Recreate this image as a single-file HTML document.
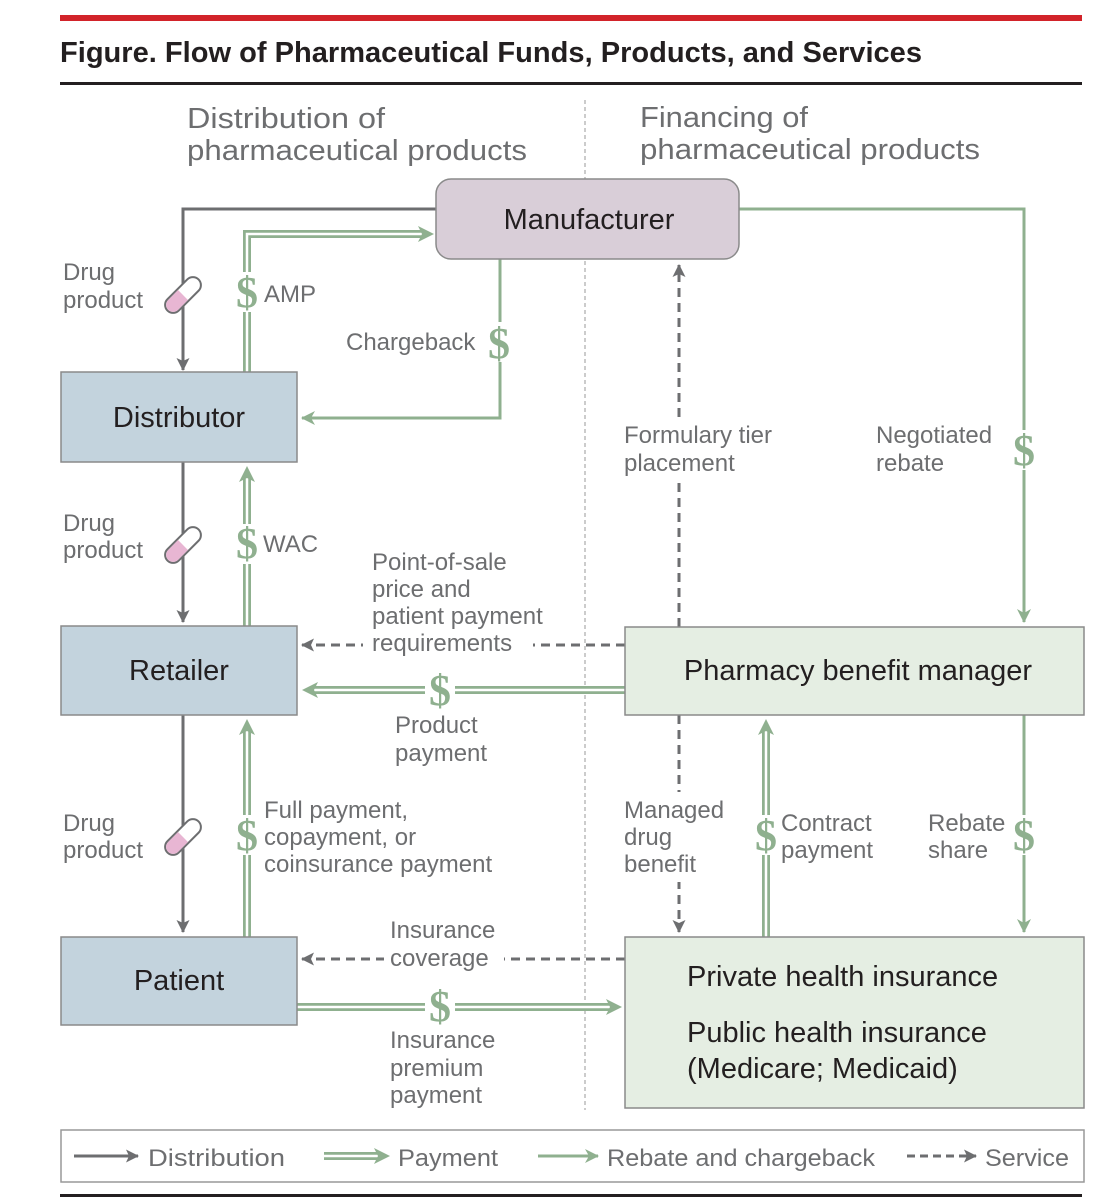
<!DOCTYPE html>
<html><head><meta charset="utf-8"><style>
html,body{margin:0;padding:0;background:#fff}
svg{display:block}
text{font-family:"Liberation Sans",sans-serif}
.l{fill:#6d6e70;font-size:24px}
.b{fill:#231f20;font-size:29px}
.d{fill:#8fb08f;font-size:44px;font-family:"Liberation Serif",serif;font-weight:bold}
</style></head><body>
<svg width="1114" height="1200" viewBox="0 0 1114 1200" xmlns="http://www.w3.org/2000/svg">
<defs>
<marker id="ag" markerWidth="13" markerHeight="13" refX="12" refY="6.5" orient="auto" markerUnits="userSpaceOnUse"><path d="M0,0 L13,6.5 L0,13 L3,6.5 z" fill="#6d6e70"/></marker>
<marker id="aG" markerWidth="14" markerHeight="14" refX="13" refY="7" orient="auto" markerUnits="userSpaceOnUse"><path d="M0,0 L14,7 L0,14 L4,7 z" fill="#8fb08f"/></marker>
<g id="pill"><rect x="-22" y="-8" width="44" height="16" rx="8" fill="#fff" stroke="#6d6e70" stroke-width="2"/><path d="M0,-7 L-14,-7 A7,7 0 0 0 -14,7 L0,7 z" fill="#e8b6d3"/></g>
</defs>
<rect x="60" y="15" width="1022" height="6" fill="#d2232a"/>
<text x="60" y="62" font-size="29" font-weight="bold" fill="#231f20" textLength="862" lengthAdjust="spacingAndGlyphs">Figure. Flow of Pharmaceutical Funds, Products, and Services</text>
<rect x="60" y="82" width="1022" height="3" fill="#231f20"/>
<text x="187" y="128" font-size="29" fill="#6d6e70" textLength="198" lengthAdjust="spacingAndGlyphs">Distribution of</text>
<text x="187" y="160" font-size="29" fill="#6d6e70" textLength="340" lengthAdjust="spacingAndGlyphs">pharmaceutical products</text>
<text x="640" y="127" font-size="29" fill="#6d6e70" textLength="168" lengthAdjust="spacingAndGlyphs">Financing of</text>
<text x="640" y="159" font-size="29" fill="#6d6e70" textLength="340" lengthAdjust="spacingAndGlyphs">pharmaceutical products</text>
<line x1="585" y1="100" x2="585" y2="1110" stroke="#999" stroke-width="1" stroke-dasharray="4,3"/>

<g stroke="#6d6e70" stroke-width="3" fill="none" marker-end="url(#ag)">
<path d="M436,209 H183 V370"/>
<path d="M183,462 V622"/>
<path d="M183,715 V932"/>
</g>
<g fill="none" stroke-linejoin="miter">
<g stroke="#8fb08f" stroke-width="8">
<path d="M247,372 V234 H424"/>
<path d="M247,626 V478"/>
<path d="M247,937 V730"/>
<path d="M625,690 H314"/>
<path d="M297,1007 H610"/>
<path d="M766,937 V730"/>
</g>
<g stroke="#fff" stroke-width="2.5">
<path d="M247,374 V234 H426"/>
<path d="M247,628 V476"/>
<path d="M247,939 V728"/>
<path d="M627,690 H312"/>
<path d="M295,1007 H612"/>
<path d="M766,939 V728"/>
</g>
</g>
<g fill="#8fb08f">
<path d="M434,234 L418,226 L422,234 L418,242 z"/>
<path d="M247,466 L239,482 L247,478 L255,482 z"/>
<path d="M247,719 L239,735 L247,731 L255,735 z"/>
<path d="M302,690 L318,682 L314,690 L318,698 z"/>
<path d="M622,1007 L606,999 L610,1007 L606,1015 z"/>
<path d="M766,719 L758,735 L766,731 L774,735 z"/>
</g>
<g stroke="#8fb08f" stroke-width="3" fill="none" marker-end="url(#aG)">
<path d="M500,259 V418 H302"/>
<path d="M739,209 H1024 V622"/>
<path d="M1024,715 V932"/>
</g>
<g stroke="#6d6e70" stroke-width="3" fill="none" stroke-dasharray="9,6" marker-end="url(#ag)">
<path d="M625,645 H302"/>
<path d="M625,959 H302"/>
<path d="M679,627 V265"/>
<path d="M679,715 V932"/>
</g>

<g fill="#fff">
<rect x="363" y="632" width="170" height="24"/>
<rect x="384" y="945" width="120" height="24"/>
<rect x="620" y="418" width="180" height="62"/>
<rect x="620" y="792" width="115" height="90"/>
<rect x="232" y="272" width="30" height="40"/>
<rect x="484" y="322" width="30" height="40"/>
<rect x="232" y="524" width="30" height="40"/>
<rect x="232" y="815" width="30" height="40"/>
<rect x="425" y="670" width="30" height="40"/>
<rect x="425" y="986" width="30" height="40"/>
<rect x="751" y="815" width="30" height="40"/>
<rect x="1009" y="430" width="30" height="40"/>
<rect x="1009" y="815" width="30" height="40"/>
</g>

<rect x="436" y="179" width="303" height="80" rx="15" fill="#d9ced8" stroke="#8a8a8a" stroke-width="1.5"/>
<text x="589" y="229" class="b" text-anchor="middle">Manufacturer</text>
<rect x="61" y="372" width="236" height="90" fill="#c3d3dd" stroke="#8a8a8a" stroke-width="1.5"/>
<text x="179" y="427" class="b" text-anchor="middle">Distributor</text>
<rect x="61" y="626" width="236" height="89" fill="#c3d3dd" stroke="#8a8a8a" stroke-width="1.5"/>
<text x="179" y="680" class="b" text-anchor="middle">Retailer</text>
<rect x="61" y="937" width="236" height="88" fill="#c3d3dd" stroke="#8a8a8a" stroke-width="1.5"/>
<text x="179" y="990" class="b" text-anchor="middle">Patient</text>
<rect x="625" y="627" width="459" height="88" fill="#e5eee3" stroke="#8a8a8a" stroke-width="1.5"/>
<text x="858" y="680" class="b" text-anchor="middle">Pharmacy benefit manager</text>
<rect x="625" y="937" width="459" height="171" fill="#e5eee3" stroke="#8a8a8a" stroke-width="1.5"/>
<text x="687" y="986" class="b">Private health insurance</text>
<text x="687" y="1042" class="b">Public health insurance</text>
<text x="687" y="1078" class="b" font-size="26">(Medicare; Medicaid)</text>

<use href="#pill" transform="translate(183,295) rotate(-45)"/>
<use href="#pill" transform="translate(183,545) rotate(-45)"/>
<use href="#pill" transform="translate(183,837) rotate(-45)"/>

<g text-anchor="middle">
<text x="247" y="307" class="d">$</text>
<text x="499" y="358" class="d">$</text>
<text x="247" y="558" class="d">$</text>
<text x="247" y="850" class="d">$</text>
<text x="440" y="705" class="d">$</text>
<text x="440" y="1021" class="d">$</text>
<text x="766" y="850" class="d">$</text>
<text x="1024" y="465" class="d">$</text>
<text x="1024" y="850" class="d">$</text>
</g>

<g class="l">
<text x="63" y="280">Drug</text><text x="63" y="308">product</text>
<text x="63" y="531">Drug</text><text x="63" y="558">product</text>
<text x="63" y="831">Drug</text><text x="63" y="858">product</text>
<text x="264" y="302">AMP</text>
<text x="346" y="350">Chargeback</text>
<text x="263" y="552">WAC</text>
<text x="372" y="570">Point-of-sale</text>
<text x="372" y="597">price and</text>
<text x="372" y="624">patient payment</text>
<text x="372" y="651">requirements</text>
<text x="395" y="733">Product</text><text x="395" y="761">payment</text>
<text x="264" y="818">Full payment,</text>
<text x="264" y="845">copayment, or</text>
<text x="264" y="872">coinsurance payment</text>
<text x="390" y="938">Insurance</text><text x="390" y="966">coverage</text>
<text x="390" y="1048">Insurance</text><text x="390" y="1076">premium</text><text x="390" y="1103">payment</text>
<text x="624" y="443">Formulary tier</text><text x="624" y="471">placement</text>
<text x="876" y="443">Negotiated</text><text x="876" y="471">rebate</text>
<text x="624" y="818">Managed</text><text x="624" y="845">drug</text><text x="624" y="872">benefit</text>
<text x="781" y="831">Contract</text><text x="781" y="858">payment</text>
<text x="928" y="831">Rebate</text><text x="928" y="858">share</text>
</g>

<rect x="61" y="1130" width="1023" height="52" fill="#fff" stroke="#999" stroke-width="1.5"/>
<line x1="74" y1="1156" x2="138" y2="1156" stroke="#6d6e70" stroke-width="3" marker-end="url(#ag)"/>
<text x="148" y="1166" class="l" textLength="137" lengthAdjust="spacingAndGlyphs">Distribution</text>
<path d="M324,1156 H380" stroke="#8fb08f" stroke-width="8" fill="none"/>
<path d="M322,1156 H382" stroke="#fff" stroke-width="2.5" fill="none"/>
<path d="M390,1156 L374,1148 L378,1156 L374,1164 z" fill="#8fb08f"/>
<text x="398" y="1166" class="l" textLength="100" lengthAdjust="spacingAndGlyphs">Payment</text>
<line x1="538" y1="1156" x2="598" y2="1156" stroke="#8fb08f" stroke-width="3" marker-end="url(#aG)"/>
<text x="607" y="1166" class="l" textLength="268" lengthAdjust="spacingAndGlyphs">Rebate and chargeback</text>
<line x1="907" y1="1156" x2="976" y2="1156" stroke="#6d6e70" stroke-width="3" stroke-dasharray="8,5" marker-end="url(#ag)"/>
<text x="985" y="1166" class="l" textLength="84" lengthAdjust="spacingAndGlyphs">Service</text>
<rect x="60" y="1194" width="1022" height="3" fill="#231f20"/>
</svg>
</body></html>
